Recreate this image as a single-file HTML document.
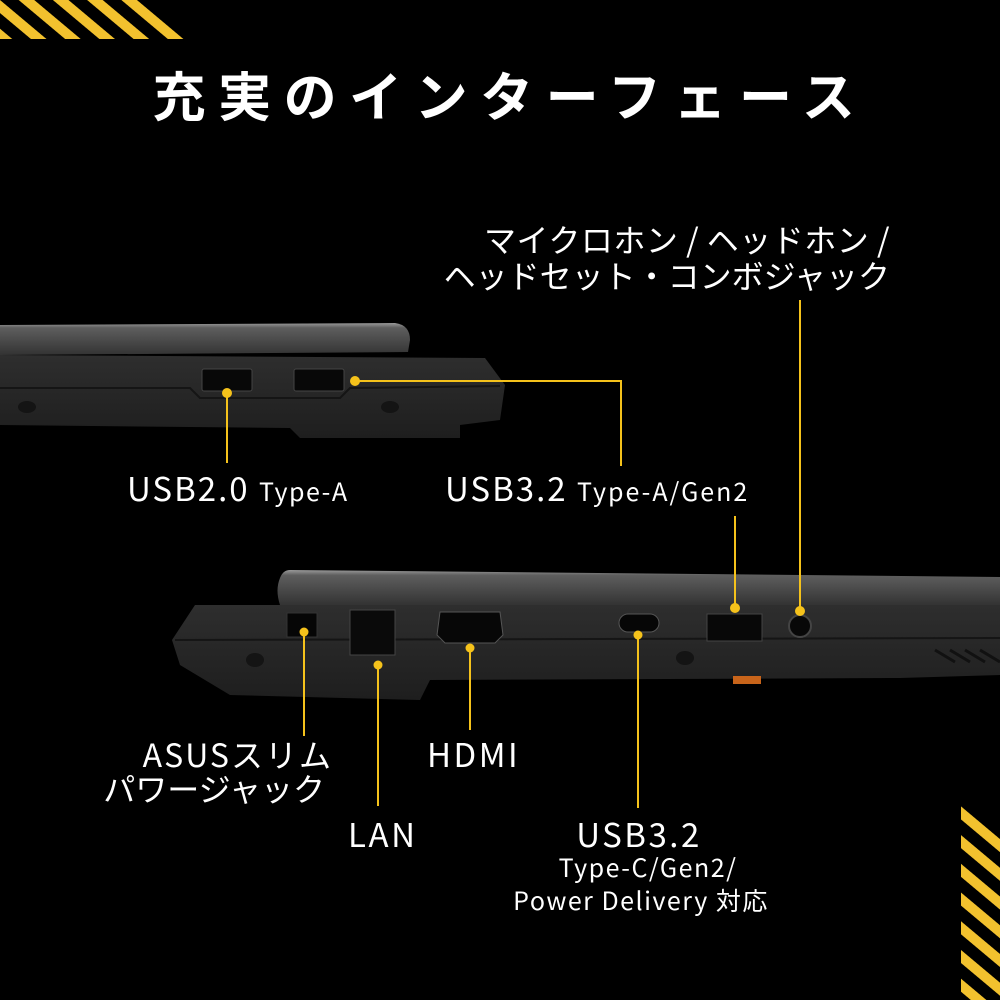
<!DOCTYPE html>
<html><head><meta charset="utf-8"><style>
html,body{margin:0;padding:0;background:#000;width:1000px;height:1000px;overflow:hidden}
svg{display:block}
text{font-family:"Noto Sans CJK JP","Liberation Sans",sans-serif;fill:#fff}
</style></head><body>
<svg width="1000" height="1000" viewBox="0 0 1000 1000" xmlns="http://www.w3.org/2000/svg">
<defs>
<pattern id="st" patternUnits="userSpaceOnUse" width="22" height="22" patternTransform="rotate(40)">
<rect x="0" y="0" width="22" height="10" fill="#f2c12e"/>
</pattern>
<clipPath id="c1"><polygon points="0,0 150,0 198,39 0,39"/></clipPath>
<clipPath id="c2"><polygon points="961,803 1000,836 1000,1000 961,1000"/></clipPath>
<linearGradient id="lid" x1="0" y1="0" x2="0" y2="1">
<stop offset="0" stop-color="#9a9a9a"/><stop offset="0.15" stop-color="#5e5e5e"/><stop offset="1" stop-color="#333"/>
</linearGradient>
<linearGradient id="body" x1="0" y1="0" x2="0" y2="1">
<stop offset="0" stop-color="#2e2e2e"/><stop offset="1" stop-color="#1e1e1e"/>
</linearGradient>
</defs>
<rect width="1000" height="1000" fill="#000"/>
<g clip-path="url(#c1)"><rect x="-50" y="-50" width="300" height="120" fill="url(#st)"/></g>
<g clip-path="url(#c2)"><rect x="900" y="780" width="150" height="250" fill="url(#st)"/></g>

<text x="510" y="116" font-size="53" font-weight="bold" text-anchor="middle" letter-spacing="12.5">充実のインターフェース</text>

<!-- top laptop -->
<path d="M0,325 L395,323 Q410,325 410,340 L408,352 L0,355 Z" fill="url(#lid)"/>
<path d="M0,355 L485,358 L505,385 L500,420 L460,425 L460,438 L300,438 L290,428 L0,425 Z" fill="url(#body)"/>
<path d="M0,388 L190,388 L200,398 L340,398 L350,388 L500,386" stroke="#151515" stroke-width="2" fill="none"/>
<rect x="202" y="369" width="50" height="22" rx="2" fill="#080808" stroke="#444"/>
<rect x="294" y="369" width="50" height="22" rx="2" fill="#080808" stroke="#444"/>
<ellipse cx="27" cy="407" rx="9" ry="6" fill="#141414"/>
<ellipse cx="390" cy="407" rx="9" ry="6" fill="#141414"/>

<!-- bottom laptop -->
<path d="M290,570 L1000,577 L1000,605 L280,605 Q275,590 280,578 Q283,570 290,570 Z" fill="url(#lid)"/>
<path d="M195,605 L1000,605 L1000,675 L900,678 L430,680 L420,700 L230,695 L180,665 L172,640 Z" fill="url(#body)"/>
<path d="M175,640 L1000,638" stroke="#151515" stroke-width="2"/>
<rect x="287" y="613" width="30" height="24" fill="#060606" stroke="#333"/>
<rect x="350" y="610" width="45" height="45" fill="#0a0a0a" stroke="#444"/>
<path d="M440,612 L500,612 L503,635 L495,643 L445,643 L437,635 Z" fill="#070707" stroke="#555"/>
<rect x="619" y="614" width="40" height="18" rx="9" fill="#060606" stroke="#555"/>
<rect x="707" y="614" width="55" height="27" fill="#080808" stroke="#444"/>
<circle cx="800" cy="626" r="11" fill="#080808" stroke="#444" stroke-width="2"/>
<ellipse cx="255" cy="660" rx="9" ry="7" fill="#141414"/>
<ellipse cx="685" cy="658" rx="9" ry="7" fill="#141414"/>
<rect x="733" y="676" width="28" height="8" fill="#c8641a"/>
<g stroke="#111" stroke-width="3"><line x1="935" y1="650" x2="955" y2="662"/><line x1="950" y1="650" x2="970" y2="662"/><line x1="965" y1="650" x2="985" y2="662"/><line x1="980" y1="650" x2="1000" y2="662"/></g>

<!-- connectors -->
<g stroke="#f5c21b" stroke-width="2" fill="none">
<line x1="227" y1="393" x2="227" y2="463"/>
<polyline points="353,381 621,381 621,466"/>
<line x1="800" y1="300" x2="800" y2="611"/>
<line x1="735" y1="516" x2="735" y2="608"/>
<line x1="304" y1="632" x2="304" y2="736"/>
<line x1="378" y1="665" x2="378" y2="806"/>
<line x1="470" y1="648" x2="470" y2="730"/>
<line x1="638" y1="635" x2="638" y2="808"/>
</g>
<g fill="#f5c21b">
<circle cx="227" cy="393" r="5"/><circle cx="355" cy="381" r="5"/>
<circle cx="800" cy="611" r="5"/><circle cx="735" cy="608" r="5"/>
<circle cx="304" cy="632" r="4.5"/><circle cx="378" cy="665" r="4.5"/>
<circle cx="470" cy="648" r="4.5"/><circle cx="638" cy="635" r="4.5"/>
</g>

<!-- labels -->
<text x="127" y="501" font-size="33" letter-spacing="2">USB2.0 <tspan font-size="25" letter-spacing="1.5">Type-A</tspan></text>
<text x="445" y="501" font-size="33" letter-spacing="2">USB3.2 <tspan font-size="25" letter-spacing="2">Type-A/Gen2</tspan></text>
<text x="890" y="252" font-size="32" text-anchor="end" letter-spacing="0.5">マイクロホン / ヘッドホン /</text>
<text x="890" y="288" font-size="32" text-anchor="end">ヘッドセット・コンボジャック</text>
<text x="333" y="767" font-size="32" text-anchor="end" letter-spacing="2">ASUSスリム</text>
<text x="325" y="801" font-size="32" text-anchor="end">パワージャック</text>
<text x="427" y="767" font-size="33" letter-spacing="2.5">HDMI</text>
<text x="348" y="847" font-size="33" letter-spacing="2.5">LAN</text>
<text x="639" y="847" font-size="33" text-anchor="middle" letter-spacing="2.5">USB3.2</text>
<text x="648" y="877" font-size="25" text-anchor="middle" letter-spacing="1.5">Type-C/Gen2/</text>
<text x="641" y="910" font-size="25" text-anchor="middle" letter-spacing="1.5">Power Delivery 対応</text>
</svg>
</body></html>
